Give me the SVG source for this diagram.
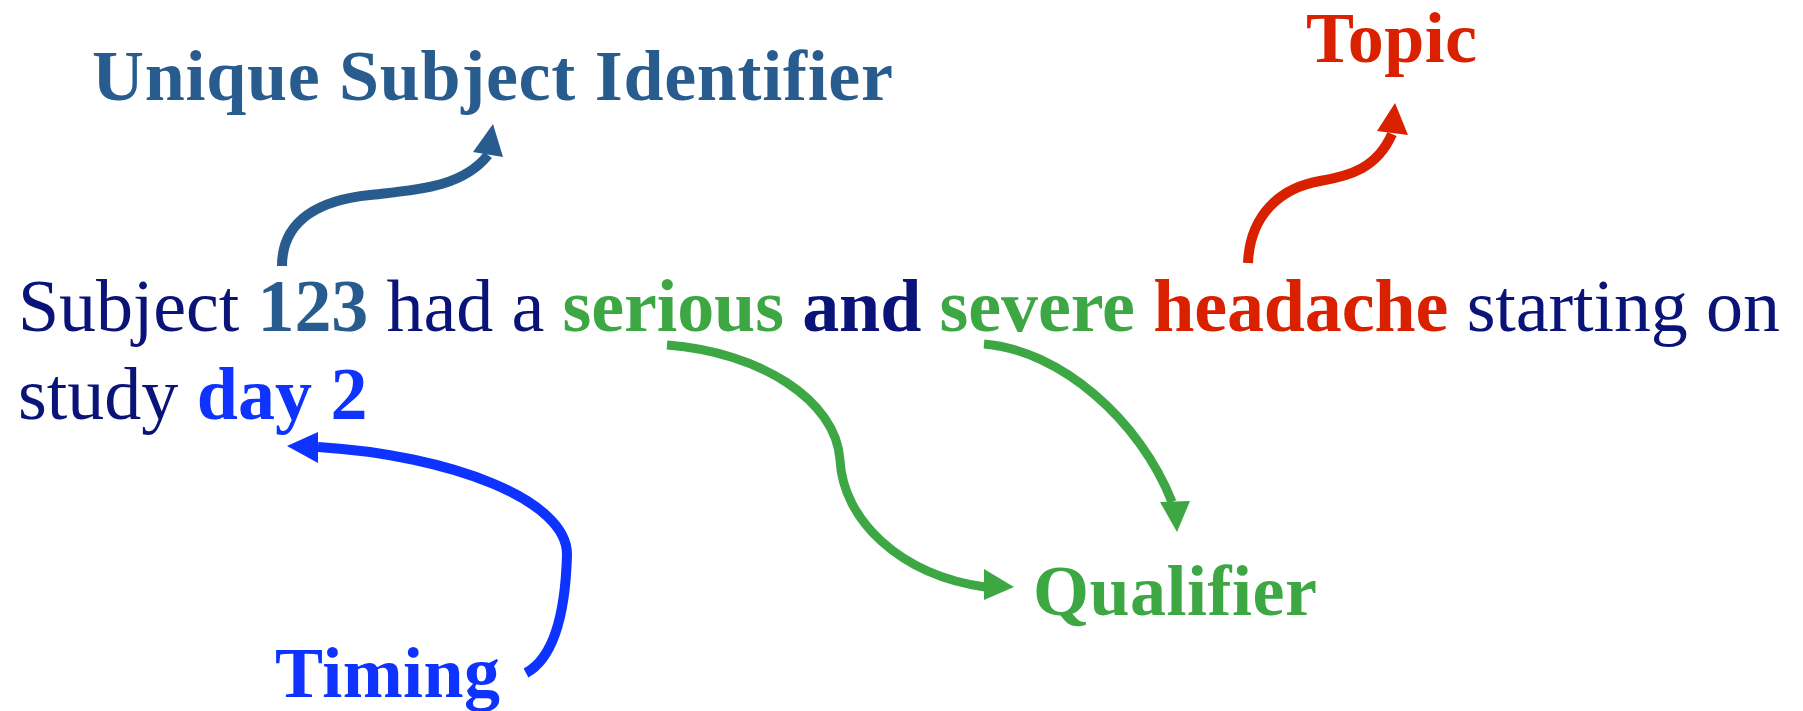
<svg xmlns="http://www.w3.org/2000/svg" width="1803" height="711" viewBox="0 0 1803 711">
<style>
text{font-family:"Liberation Serif","Times New Roman",serif;}
.b{font-weight:bold;}
.lbl{font-size:72px;font-weight:bold;}
.main{font-size:74px;fill:#0A1478;}
.usi{fill:#285C8F;}
.red{fill:#D92100;}
.grn{fill:#3DA744;}
.blu{fill:#0F33FF;}
.ln{fill:none;stroke-linecap:butt;}
.c-usi{stroke:#285C8F;stroke-width:10;}
.c-red{stroke:#D92100;stroke-width:10;}
.c-grn{stroke:#3DA744;stroke-width:9;}
.c-blu{stroke:#0F33FF;stroke-width:10;}
</style>
<rect width="1803" height="711" fill="#FFFFFF"/>
<g id="sentence">
<text class="main" x="18" y="331" textLength="1762" lengthAdjust="spacing">Subject <tspan class="b usi">123</tspan> had a <tspan class="b grn">serious</tspan> <tspan class="b">and</tspan> <tspan class="b grn">severe</tspan> <tspan class="b red">headache</tspan> starting on</text>
<text class="main" x="18" y="419">study <tspan class="b blu">day 2</tspan></text>
</g>
<g id="label-usi"><text class="lbl usi" x="92" y="100" font-size="74" textLength="801" lengthAdjust="spacing">Unique Subject Identifier</text></g>
<g id="label-topic"><text class="lbl red" x="1306" y="62" textLength="171" lengthAdjust="spacing">Topic</text></g>
<g id="label-qualifier"><text class="lbl grn" x="1033" y="615" textLength="284" lengthAdjust="spacing">Qualifier</text></g>
<g id="label-timing"><text class="lbl blu" x="275" y="697" textLength="225" lengthAdjust="spacing">Timing</text></g>
<g id="connectors">
<path class="ln c-usi" d="M282,266 C282,220 320,200 370,195 C415,190 462,188 488,155"/>
<polygon fill="#285C8F" points="493,124 473,152 503,157"/>
<path class="ln c-red" d="M1248,263 C1250,215 1280,188 1320,181 C1350,176 1377,168 1392,134"/>
<polygon fill="#D92100" points="1395,103 1377,131 1408,135"/>
<path class="ln c-grn" d="M667,345 C760,352 836,400 840,460 C843,520 900,575 985,587"/>
<polygon fill="#3DA744" points="1014,587 984,569 984,600"/>
<path class="ln c-grn" d="M984,344 C1060,350 1140,420 1172,502"/>
<polygon fill="#3DA744" points="1177,532 1160,502 1190,501"/>
<path class="ln c-blu" d="M526,673 C550,660 565,625 567,555 C568,500 450,455 318,447"/>
<polygon fill="#0F33FF" points="287,446 318,432 318,463"/>
</g>
</svg>
